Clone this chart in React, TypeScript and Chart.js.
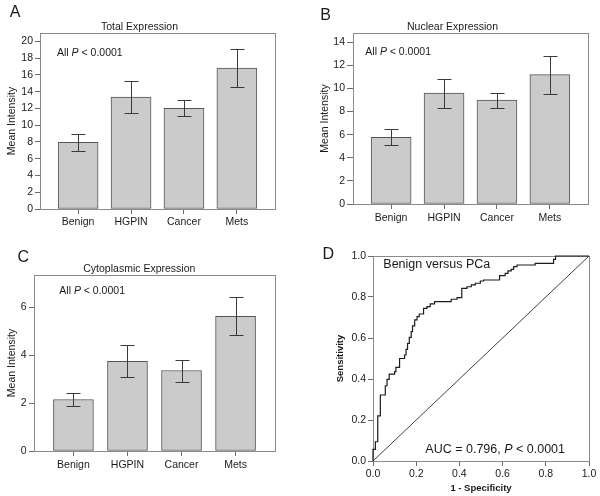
import React, { useEffect, useRef } from "react";
import { Chart, registerables } from "chart.js";
Chart.register(...registerables);

const FONT = '"Liberation Sans", Arial, Helvetica, sans-serif';

// ---- data ----
const categories = ["Benign", "HGPIN", "Cancer", "Mets"];

const totalMean = [7.95, 13.35, 12.0, 16.8];
const totalLow = [6.95, 11.5, 11.15, 14.55];
const totalHigh = [8.95, 15.25, 12.95, 19.05];

const nuclearMean = [5.77, 9.6, 9.0, 11.2];
const nuclearLow = [5.07, 8.35, 8.35, 9.55];
const nuclearHigh = [6.5, 10.83, 9.62, 12.84];

const cytoMean = [2.15, 3.74, 3.36, 5.62];
const cytoLow = [1.86, 3.08, 2.9, 4.85];
const cytoHigh = [2.44, 4.41, 3.82, 6.42];

// ROC: at each FPR value the curve rises to the given TPR
const rocFpr = [0, 0.011, 0.022, 0.034, 0.057, 0.065, 0.075, 0.1, 0.106, 0.123, 0.146, 0.153, 0.16, 0.168, 0.177, 0.183, 0.193, 0.204, 0.214, 0.234, 0.25, 0.265, 0.285, 0.362, 0.389, 0.411, 0.435, 0.455, 0.474, 0.497, 0.512, 0.586, 0.612, 0.625, 0.64, 0.651, 0.667, 0.751, 0.836, 0.845, 1.0];
const rocTpr = [0.057, 0.094, 0.22, 0.322, 0.367, 0.398, 0.424, 0.436, 0.457, 0.5, 0.517, 0.545, 0.574, 0.603, 0.631, 0.659, 0.688, 0.704, 0.717, 0.745, 0.753, 0.766, 0.777, 0.789, 0.797, 0.842, 0.85, 0.859, 0.867, 0.878, 0.883, 0.904, 0.915, 0.927, 0.935, 0.948, 0.956, 0.964, 0.984, 1.0, 1.0];
const diagX = [0, 1];
const diagY = [0, 1];

const rocTicks = [0, 0.2, 0.4, 0.6, 0.8, 1.0];

// ---- styles ----
const AXIS_COLOR = "#8a8a8a";
const TICK_COLOR = "#6a6a6a";
const TEXT_COLOR = "#1a1a1a";

type Seg = [string, boolean];

function drawRich(
  ctx: CanvasRenderingContext2D,
  segs: Seg[],
  x: number,
  y: number,
  size: number,
  align: "left" | "right" | "center",
  weight = "normal"
) {
  ctx.save();
  ctx.textBaseline = "middle";
  ctx.textAlign = "left";
  ctx.fillStyle = TEXT_COLOR;
  const fontOf = (it: boolean) => `${it ? "italic " : ""}${weight} ${size}px ${FONT}`;
  const widths = segs.map(([t, it]) => {
    ctx.font = fontOf(it);
    return ctx.measureText(t).width;
  });
  const total = widths.reduce((a, b) => a + b, 0);
  let cx = align === "left" ? x : align === "right" ? x - total : x - total / 2;
  segs.forEach(([t, it], i) => {
    ctx.font = fontOf(it);
    ctx.fillText(t, cx, y);
    cx += widths[i];
  });
  ctx.restore();
}

const framePlugin = {
  id: "frame",
  beforeDatasetsDraw(chart: any) {
    const { ctx, chartArea } = chart;
    const l = Math.floor(chartArea.left) + 0.5;
    const t = Math.floor(chartArea.top) + 0.5;
    const r = Math.floor(chartArea.right) + 0.5;
    const b = Math.floor(chartArea.bottom) + 0.5;
    ctx.save();
    ctx.strokeStyle = AXIS_COLOR;
    ctx.lineWidth = 1;
    ctx.strokeRect(l, t, r - l, b - t);
    ctx.restore();
  },
};

function errorBarPlugin(low: number[], high: number[]) {
  return {
    id: "errorBars",
    afterDatasetsDraw(chart: any) {
      const { ctx } = chart;
      const xs = chart.scales.x;
      const ys = chart.scales.y;
      ctx.save();
      ctx.strokeStyle = "#3a3a3a";
      ctx.lineWidth = 1;
      low.forEach((lo, i) => {
        const x = Math.round(xs.getPixelForValue(i)) + 0.5;
        const y1 = Math.round(ys.getPixelForValue(lo)) + 0.5;
        const y2 = Math.round(ys.getPixelForValue(high[i])) + 0.5;
        ctx.beginPath();
        ctx.moveTo(x, y1);
        ctx.lineTo(x, y2);
        ctx.moveTo(x - 7, y1);
        ctx.lineTo(x + 7, y1);
        ctx.moveTo(x - 7, y2);
        ctx.lineTo(x + 7, y2);
        ctx.stroke();
      });
      ctx.restore();
    },
  };
}

function textPlugin(draw: (ctx: CanvasRenderingContext2D) => void) {
  return {
    id: "texts",
    afterDraw(chart: any) {
      draw(chart.ctx);
    },
  };
}

interface BarSpec {
  mean: number[];
  low: number[];
  high: number[];
  yMax: number;
  title: string;
  letter: string;
  w: number;
  h: number;
  area: { l: number; t: number; r: number; b: number };
  titlePos: [number, number];
  letterPos: [number, number];
  pPos: [number, number];
  yTitleX: number;
  yTickLen: number;
  yTickPad: number;
  xTickPad: number;
  xMin: number;
  xMax: number;
}

function buildBar(s: BarSpec): any {
  return {
    type: "bar",
    data: {
      datasets: [
        {
          data: s.mean.map((v, i) => ({ x: i, y: v })),
          backgroundColor: "#cbcbcb",
          borderColor: "#555555",
          borderWidth: 1,
          borderSkipped: false,
          barThickness: 40,
        },
      ],
    },
    options: {
      responsive: false,
      animation: false,
      devicePixelRatio: 1,
      layout: { padding: { left: 0, top: s.area.t, right: s.w - s.area.r, bottom: 0 } },
      plugins: { legend: { display: false }, tooltip: { enabled: false }, title: { display: false } },
      scales: {
        x: {
          type: "linear",
          min: s.xMin,
          max: s.xMax,
          offset: false,
          afterBuildTicks: (sc: any) => {
            sc.ticks = categories.map((_, i) => ({ value: i }));
          },
          afterFit: (sc: any) => {
            sc.height = s.h - s.area.b;
          },
          ticks: {
            callback: (v: any) => categories[Math.round(Number(v))] ?? "",
            font: { family: FONT, size: 10.5 },
            color: TEXT_COLOR,
            padding: s.xTickPad,
            maxRotation: 0,
            autoSkip: false,
          },
          grid: { display: true, drawOnChartArea: false, drawTicks: true, tickLength: 5, color: TICK_COLOR, offset: false },
          border: { display: true, color: AXIS_COLOR },
        },
        y: {
          type: "linear",
          min: 0,
          max: s.yMax,
          afterFit: (sc: any) => {
            sc.width = s.area.l;
          },
          ticks: {
            stepSize: 2,
            includeBounds: false,
            font: { family: FONT, size: 10.5 },
            color: TEXT_COLOR,
            padding: s.yTickPad,
          },
          grid: { display: true, drawOnChartArea: false, drawTicks: true, tickLength: s.yTickLen, color: TICK_COLOR },
          border: { display: true, color: AXIS_COLOR },
          title: {
            display: true,
            text: "Mean Intensity",
            font: { family: FONT, size: 10.5 },
            color: TEXT_COLOR,
            padding: { top: s.yTitleX - 6.3, bottom: 0 },
          },
        },
      },
    },
    plugins: [
      framePlugin,
      errorBarPlugin(s.low, s.high),
      textPlugin((ctx) => {
        drawRich(ctx, [[s.letter, false]], s.letterPos[0], s.letterPos[1], 16, "center");
        drawRich(ctx, [[s.title, false]], s.titlePos[0], s.titlePos[1], 10.5, "center");
        drawRich(
          ctx,
          [
            ["All ", false],
            ["P", true],
            [" < 0.0001", false],
          ],
          s.pPos[0],
          s.pPos[1],
          10.5,
          "left"
        );
      }),
    ],
  };
}

function buildRoc(): any {
  const pts: { x: number; y: number }[] = [{ x: 0, y: 0 }];
  let prev = 0;
  rocFpr.forEach((fx, i) => {
    pts.push({ x: fx, y: prev });
    pts.push({ x: fx, y: rocTpr[i] });
    prev = rocTpr[i];
  });
  const area = { l: 73, t: 16, r: 289, b: 221 };
  const w = 300;
  const h = 256;
  return {
    type: "scatter",
    data: {
      datasets: [
        {
          data: pts,
          showLine: true,
          borderColor: "#1c1c1c",
          borderWidth: 1.2,
          pointRadius: 0,
          fill: false,
          tension: 0,
          clip: 4,
        },
        {
          data: diagX.map((x, i) => ({ x, y: diagY[i] })),
          showLine: true,
          borderColor: "#2a2a2a",
          borderWidth: 0.9,
          pointRadius: 0,
          fill: false,
          clip: 4,
        },
      ],
    },
    options: {
      responsive: false,
      animation: false,
      devicePixelRatio: 1,
      layout: { padding: { left: 0, top: area.t, right: w - area.r, bottom: 0 } },
      plugins: { legend: { display: false }, tooltip: { enabled: false } },
      scales: {
        x: {
          type: "linear",
          min: 0,
          max: 1,
          afterBuildTicks: (sc: any) => {
            sc.ticks = rocTicks.map((v) => ({ value: v }));
          },
          afterFit: (sc: any) => {
            sc.height = h - area.b;
          },
          ticks: {
            callback: (v: any) => Number(v).toFixed(1),
            font: { family: FONT, size: 10.5 },
            color: TEXT_COLOR,
            padding: 2,
            maxRotation: 0,
            autoSkip: false,
          },
          grid: { display: true, drawOnChartArea: false, drawTicks: true, tickLength: 5, color: TICK_COLOR },
          border: { display: true, color: AXIS_COLOR },
          title: {
            display: true,
            text: "1 - Specificity",
            font: { family: FONT, size: 9.5, weight: "bold" },
            color: TEXT_COLOR,
            padding: { top: 0, bottom: 2.3 },
          },
        },
        y: {
          type: "linear",
          min: 0,
          max: 1,
          afterBuildTicks: (sc: any) => {
            sc.ticks = rocTicks.map((v) => ({ value: v }));
          },
          afterFit: (sc: any) => {
            sc.width = area.l;
          },
          ticks: {
            callback: (v: any) => Number(v).toFixed(1),
            font: { family: FONT, size: 10.5 },
            color: TEXT_COLOR,
            padding: 2,
          },
          grid: { display: true, drawOnChartArea: false, drawTicks: true, tickLength: 5, color: TICK_COLOR },
          border: { display: true, color: AXIS_COLOR },
          title: {
            display: true,
            text: "Sensitivity",
            font: { family: FONT, size: 9.5, weight: "bold" },
            color: TEXT_COLOR,
            padding: { top: 40 - 5.7, bottom: 0 },
          },
        },
      },
    },
    plugins: [
      framePlugin,
      textPlugin((ctx) => {
        drawRich(ctx, [["D", false]], 28.3, 15, 16, "center");
        drawRich(ctx, [["Benign versus PCa", false]], 83.3, 25, 12.5, "left");
        drawRich(
          ctx,
          [
            ["AUC = 0.796, ", false],
            ["P", true],
            [" < 0.0001", false],
          ],
          265,
          210,
          12.5,
          "right"
        );
      }),
    ],
  };
}

function Panel(props: { left: number; top: number; width: number; height: number; build: () => any }) {
  const ref = useRef<HTMLCanvasElement>(null);
  useEffect(() => {
    const chart = new Chart(ref.current as HTMLCanvasElement, props.build());
    return () => chart.destroy();
  }, []);
  return (
    <canvas
      ref={ref}
      width={props.width}
      height={props.height}
      style={{ position: "absolute", left: props.left, top: props.top, width: props.width, height: props.height }}
    />
  );
}

const specA: BarSpec = {
  mean: totalMean,
  low: totalLow,
  high: totalHigh,
  yMax: 21,
  title: "Total Expression",
  letter: "A",
  w: 300,
  h: 240,
  area: { l: 40, t: 33, r: 275, b: 209 },
  titlePos: [139.5, 27],
  letterPos: [15, 13],
  pPos: [57, 53],
  yTitleX: 12,
  yTickLen: 5,
  yTickPad: 2,
  xTickPad: 2,
  xMin: -0.72,
  xMax: 3.72,
};

const specB: BarSpec = {
  mean: nuclearMean,
  low: nuclearLow,
  high: nuclearHigh,
  yMax: 14.8,
  title: "Nuclear Expression",
  letter: "B",
  w: 300,
  h: 240,
  area: { l: 53, t: 33, r: 288, b: 204 },
  titlePos: [152.5, 26.7],
  letterPos: [25.5, 15.3],
  pPos: [65.3, 51.7],
  yTitleX: 25,
  yTickLen: 6,
  yTickPad: 2,
  xTickPad: 3,
  xMin: -0.72,
  xMax: 3.72,
};

const specC: BarSpec = {
  mean: cytoMean,
  low: cytoLow,
  high: cytoHigh,
  yMax: 7.35,
  title: "Cytoplasmic Expression",
  letter: "C",
  w: 300,
  h: 256,
  area: { l: 34, t: 35, r: 275, b: 211 },
  titlePos: [139.3, 29.3],
  letterPos: [23.3, 17.5],
  pPos: [59.3, 51],
  yTitleX: 12.3,
  yTickLen: 5,
  yTickPad: 2.5,
  xTickPad: 3,
  xMin: -0.73,
  xMax: 3.73,
};

export default function App() {
  return (
    <div style={{ position: "absolute", left: 0, top: 0, width: 600, height: 496, background: "#ffffff" }}>
      <Panel left={0} top={0} width={300} height={240} build={() => buildBar(specA)} />
      <Panel left={300} top={0} width={300} height={240} build={() => buildBar(specB)} />
      <Panel left={0} top={240} width={300} height={256} build={() => buildBar(specC)} />
      <Panel left={300} top={240} width={300} height={256} build={buildRoc} />
    </div>
  );
}
